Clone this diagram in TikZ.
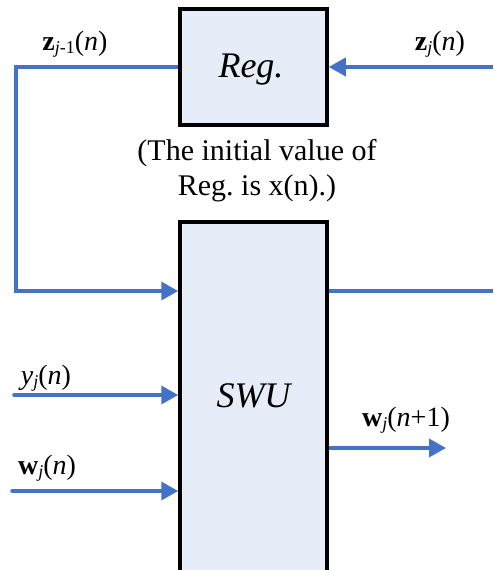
\documentclass[tikz,border=0pt]{standalone}
\usepackage{fontspec}
\setmainfont{Liberation Serif}
\usetikzlibrary{arrows.meta}
\definecolor{lineblue}{RGB}{68,114,196}
\definecolor{boxfill}{RGB}{230,237,248}
\newcommand{\lowsub}[1]{\raisebox{-0.28ex}{\fontsize{18}{20}\selectfont #1}}
\begin{document}
\begin{tikzpicture}[x=1pt,y=-1pt,
  blk/.style={draw=black,line width=3.5pt,fill=boxfill,minimum width=147pt,inner sep=0pt},
  big/.style={font=\fontsize{36}{40}\selectfont\itshape,inner sep=0pt},
  wire/.style={draw=lineblue,line width=3.5pt},
  arr/.style={wire,-{Triangle[length=17pt,width=18pt]}},
  lbl/.style={font=\fontsize{28}{32}\selectfont,inner sep=0pt,anchor=base},
  note/.style={font=\fontsize{30}{35}\selectfont,inner sep=0pt,anchor=base}]
\useasboundingbox (0,0) rectangle (493,570);
\clip (0,0) rectangle (493,570);
% blocks
\node[blk,minimum height=116pt] (reg) at (253.5,67) {};
\node[big,anchor=base] (regt) at (251,77) {Reg.};
\node[blk,minimum height=360pt,anchor=north] (swu) at (253.5,220) {};
\node[big,anchor=base] (swut) at (253.5,407) {SWU};
\node[note] (nt1) at (257,160) {(The initial value of};
\node[note] (nt2) at (257,195) {Reg.\ is x(n).)};
% connector coordinates
\coordinate (c1) at (16,67);
\coordinate (c2) at (16,291);
\coordinate (zin) at (493,67);
\coordinate (out) at (493,291);
\coordinate (yin) at (14,395);
\coordinate (win) at (12,491);
\coordinate (wout) at (446,448);
% connectors
\draw[arr] (reg.west) -- (c1) -- (c2) -- (swu.west |- c2);
\draw[arr] (zin) -- (reg.east);
\draw[wire] (swu.east |- out) -- (out);
\draw[arr,line cap=round] (yin) -- (swu.west |- yin);
\draw[arr,line cap=round] (win) -- (swu.west |- win);
\draw[arr] (swu.east |- wout) -- (wout);
% labels
\node[lbl] (lz1) at (75,50) {\textbf{z}\lowsub{\textit{j}-1}(\textit{n})};
\node[lbl] (lz) at (440,50) {\textbf{z}\lowsub{\textit{j}}(\textit{n})};
\node[lbl] (ly) at (46,384) {\textit{y}\lowsub{\textit{j}}(\textit{n})};
\node[lbl] (lw) at (47,474) {\textbf{w}\lowsub{\textit{j}}(\textit{n})};
\node[lbl] (lw1) at (406,426) {\textbf{w}\lowsub{\textit{j}}(\textit{n}+1)};
\end{tikzpicture}
\end{document}
